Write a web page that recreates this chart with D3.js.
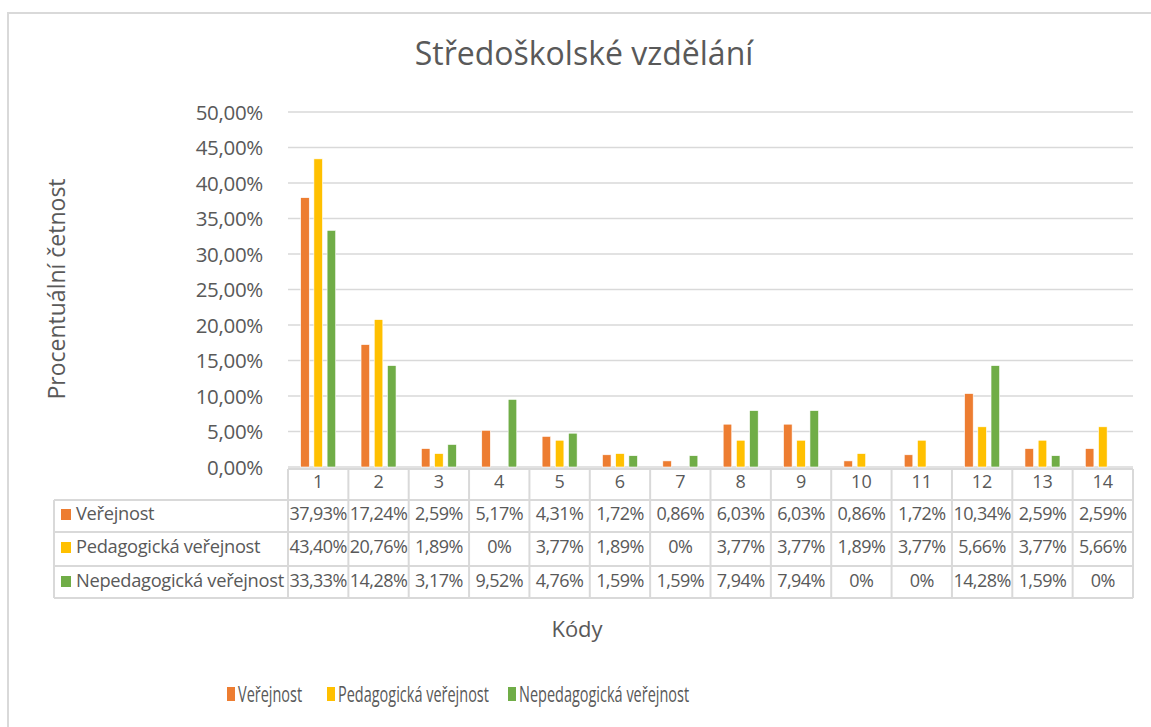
<!DOCTYPE html>
<html>
<head>
  <meta charset="utf-8">
  <title>Středoškolské vzdělání</title>
  <script src="https://d3js.org/d3.v7.min.js"></script>
  <style>
    body { margin: 0; background: #fff; }
    text { font-family: "Open Sans", sans-serif; fill: #595959; }
  </style>
</head>
<body>
  <div id="chart"></div>

  <script>
    // data
    var kody = ["1", "2", "3", "4", "5", "6", "7", "8", "9", "10", "11", "12", "13", "14"];
    var serie = ["Veřejnost", "Pedagogická veřejnost", "Nepedagogická veřejnost"];
    var verejnost = [37.93, 17.24, 2.59, 5.17, 4.31, 1.72, 0.86, 6.03, 6.03, 0.86, 1.72, 10.34, 2.59, 2.59];
    var pedagogicka = [43.40, 20.76, 1.89, 0, 3.77, 1.89, 0, 3.77, 3.77, 1.89, 3.77, 5.66, 3.77, 5.66];
    var nepedagogicka = [33.33, 14.28, 3.17, 9.52, 4.76, 1.59, 1.59, 7.94, 7.94, 0, 0, 14.28, 1.59, 0];
    var yTicks = [0, 5, 10, 15, 20, 25, 30, 35, 40, 45, 50];
    var barvy = ["#ED7D31", "#FFC000", "#70AD47"];

    var hodnoty = [verejnost, pedagogicka, nepedagogicka];

    var W = 1151, H = 727;
    var plot = { left: 288, right: 1133, top: 112, bottom: 467 };

    var cz = d3.formatLocale({ decimal: ",", thousands: " ", grouping: [3], currency: ["", " Kč"] });
    var fmtAxis = cz.format(".2f");
    var fmtCell = function(v) { return v === 0 ? "0%" : cz.format(".2f")(v) + "%"; };

    var svg = d3.select("#chart").append("svg")
      .attr("width", W).attr("height", H);

    // rámeček grafu
    svg.append("rect")
      .attr("x", 8).attr("y", 13).attr("width", W).attr("height", H)
      .attr("fill", "none").attr("stroke", "#d9d9d9").attr("stroke-width", 2);

    // měřítka
    var x0 = d3.scaleBand().domain(kody).range([plot.left, plot.right])
      .paddingInner(0.42).paddingOuter(0.21);
    var x1 = d3.scaleBand().domain(serie).range([0, x0.bandwidth()]).paddingInner(0.35);
    var y = d3.scaleLinear().domain([0, 50]).range([plot.bottom, plot.top]);

    // mřížka
    svg.append("g").selectAll("line").data(yTicks).enter().append("line")
      .attr("x1", plot.left).attr("x2", plot.right)
      .attr("y1", d => y(d)).attr("y2", d => y(d))
      .attr("stroke", "#d9d9d9").attr("stroke-width", 1.5);

    // popisky osy y
    var yAxis = svg.append("g")
      .attr("transform", "translate(263,0)")
      .call(d3.axisLeft(y).tickValues(yTicks).tickSize(0).tickPadding(0)
        .tickFormat(d => fmtAxis(d) + "%"));
    yAxis.select(".domain").remove();
    yAxis.selectAll("text").attr("font-size", 20.5).attr("font-family", "Open Sans")
      .attr("fill", "#595959").attr("letter-spacing", -0.3).attr("dy", "0.35em");

    // sloupce
    var skupiny = svg.append("g").selectAll("g").data(kody).enter().append("g")
      .attr("transform", d => "translate(" + x0(d) + ",0)");
    skupiny.selectAll("rect")
      .data((k, i) => serie.map((s, j) => ({ s: s, v: hodnoty[j][i], c: barvy[j] })))
      .enter().append("rect")
      .attr("x", d => x1(d.s))
      .attr("width", x1.bandwidth())
      .attr("y", d => y(d.v))
      .attr("height", d => y(0) - y(d.v))
      .attr("fill", d => d.c)
      .attr("stroke", "#fff").attr("stroke-width", 0.6);

    // tabulka dat
    var colW = x0.step();
    var rowY = [469, 500, 532, 566, 598];
    var baseY = [488, 520, 553, 587];
    var tabLeft = 54;
    var grid = svg.append("g").attr("stroke", "#d9d9d9").attr("stroke-width", 2).attr("fill", "none");
    grid.append("line").attr("x1", plot.left).attr("x2", plot.right).attr("y1", rowY[0]).attr("y2", rowY[0]);
    rowY.slice(1).forEach(function(yy) {
      grid.append("line").attr("x1", tabLeft).attr("x2", plot.right).attr("y1", yy).attr("y2", yy);
    });
    grid.append("line").attr("x1", tabLeft).attr("x2", tabLeft).attr("y1", rowY[1]).attr("y2", rowY[4]);
    kody.forEach(function(k) {
      var xl = x0(k) - (colW - x0.bandwidth()) / 2;
      grid.append("line").attr("x1", xl).attr("x2", xl).attr("y1", rowY[0]).attr("y2", rowY[4]);
    });
    grid.append("line").attr("x1", plot.right).attr("x2", plot.right).attr("y1", rowY[0]).attr("y2", rowY[4]);

    svg.append("g").selectAll("text").data(kody).enter().append("text")
      .attr("x", d => x0(d) + x0.bandwidth() / 2)
      .attr("y", baseY[0])
      .attr("text-anchor", "middle").attr("font-size", 18)
      .text(d => d);

    serie.forEach(function(s, j) {
      var by = baseY[j + 1];
      svg.append("rect").attr("x", 61).attr("y", by - 11).attr("width", 10).attr("height", 11).attr("fill", barvy[j]);
      svg.append("text").attr("x", 76).attr("y", by).attr("font-size", 18.3)
        .attr("letter-spacing", -0.3).text(s);
      svg.append("g").selectAll("text").data(kody).enter().append("text")
        .attr("x", d => x0(d) + x0.bandwidth() / 2)
        .attr("y", by)
        .attr("text-anchor", "middle").attr("font-size", 18).attr("letter-spacing", -0.55)
        .text((d, i) => fmtCell(hodnoty[j][i]));
    });

    // nadpis
    svg.append("text").attr("x", 584).attr("y", 65).attr("text-anchor", "middle")
      .attr("font-size", 32).text("Středoškolské vzdělání");

    // názvy os
    svg.append("text").attr("transform", "translate(65,289) rotate(-90)")
      .attr("text-anchor", "middle").attr("font-size", 23).text("Procentuální četnost");
    svg.append("text").attr("x", 577).attr("y", 637).attr("text-anchor", "middle")
      .attr("font-size", 22).text("Kódy");

    // legenda
    var legX = [227, 327, 508];
    serie.forEach(function(s, j) {
      svg.append("rect").attr("x", legX[j]).attr("y", 687).attr("width", 8).attr("height", 14).attr("fill", barvy[j]);
      svg.append("text").attr("transform", "translate(" + (legX[j] + 11) + ",702) scale(0.69,1)")
        .attr("font-size", 21).text(s);
    });
  </script>
</body>
</html>
